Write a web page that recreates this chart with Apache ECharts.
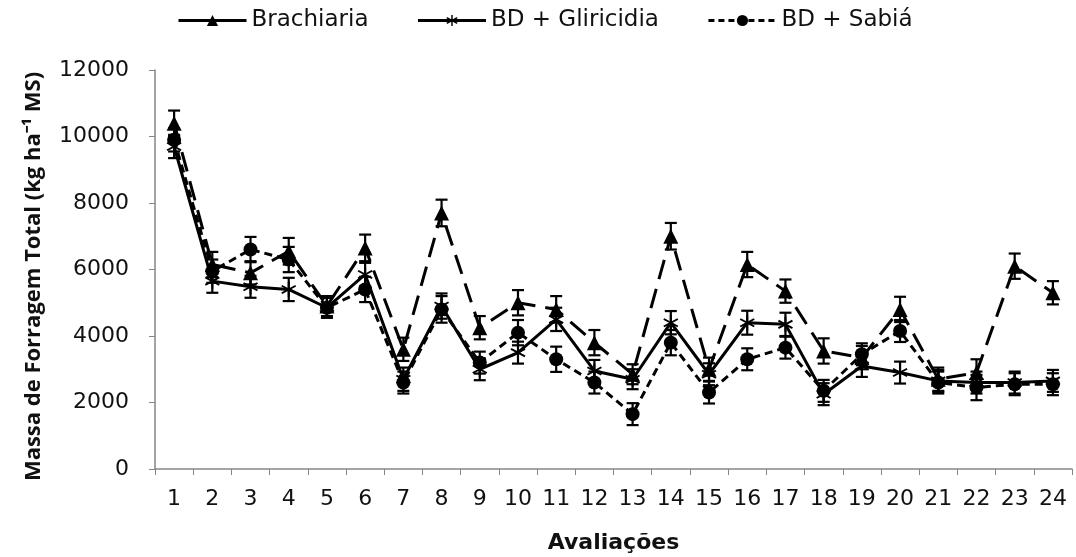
<!DOCTYPE html>
<html>
<head>
<meta charset="utf-8">
<script src="https://cdn.jsdelivr.net/npm/echarts@6/dist/echarts.min.js"></script>
<style>html,body{margin:0;padding:0;background:#fff;}#c{width:1076px;height:557px;}</style>
</head>
<body>
<div id="c"></div>
<script>
const categories = ['1','2','3','4','5','6','7','8','9','10','11','12','13','14','15','16','17','18','19','20','21','22','23','24'];
const brachiaria = [10400,6150,5900,6550,4900,6650,3600,7700,4250,5000,4800,3800,2850,7000,3000,6150,5350,3550,3350,4800,2700,2900,6100,5300];
const gliricidia = [9700,5650,5480,5400,4850,5850,2700,4900,3000,3500,4500,2950,2700,4400,2850,4400,4350,2250,3100,2900,2650,2600,2600,2650];
const sabia = [9900,5950,6600,6300,4850,5400,2600,4800,3200,4100,3300,2600,1650,3800,2300,3300,3650,2350,3450,4150,2600,2450,2550,2550];
const brachiariaErr = [380,380,350,400,300,400,350,400,350,380,400,380,300,400,350,380,350,380,350,380,350,400,380,350];
const gliricidiaErr = [350,350,330,350,300,350,350,380,330,330,350,330,300,350,330,360,350,330,330,330,330,330,330,330];
const sabiaErr = [350,350,380,380,300,380,330,400,330,380,380,330,330,380,330,330,330,330,330,330,330,380,330,330];
const yTicks = {min: 0, max: 12000, interval: 2000};
const names = ['Brachiaria', 'BD + Gliricidia', 'BD + Sabiá'];

const starPath = 'path://M-1.2,-10L1.2,-10L1.2,10L-1.2,10Z M8.06,6.04L9.26,3.96L-8.06,-6.04L-9.26,-3.96Z M-9.26,3.96L-8.06,6.04L9.26,-3.96L8.06,-6.04Z';

function errData(vals, errs) {
  return vals.map((v, i) => [i, v - errs[i], v + errs[i]]);
}
function errSeries(vals, errs) {
  return {
    type: 'custom',
    data: errData(vals, errs),
    encode: {x: 0, y: [1, 2]},
    z: 5,
    silent: true,
    renderItem: function (params, api) {
      const x = api.value(0);
      const lo = api.coord([x, api.value(1)]);
      const hi = api.coord([x, api.value(2)]);
      const w = 6;
      const st = {stroke: '#000', lineWidth: 2.2};
      return {
        type: 'group',
        children: [
          {type: 'line', shape: {x1: lo[0], y1: lo[1], x2: hi[0], y2: hi[1]}, style: st},
          {type: 'line', shape: {x1: lo[0] - w, y1: lo[1], x2: lo[0] + w, y2: lo[1]}, style: st},
          {type: 'line', shape: {x1: hi[0] - w, y1: hi[1], x2: hi[0] + w, y2: hi[1]}, style: st}
        ]
      };
    }
  };
}

const chart = echarts.init(document.getElementById('c'));
chart.setOption({
  animation: false,
  backgroundColor: '#fff',
  legend: {
    left: 172,
    top: 4,
    itemWidth: 68,
    itemHeight: 14,
    itemGap: 48,
    textStyle: {fontFamily: 'DejaVu Sans', fontSize: 23, color: '#111'},
    data: [
      {name: names[0], lineStyle: {type: 'solid', width: 3}},
      {name: names[1], lineStyle: {type: 'solid', width: 3}},
      {name: names[2], lineStyle: {type: [6, 4], width: 3}}
    ]
  },
  grid: {left: 155, right: 4, top: 70, bottom: 88, outerBoundsMode: 'none'},
  xAxis: {
    type: 'category',
    data: categories,
    name: 'Avaliações',
    nameLocation: 'middle',
    nameGap: 63,
    nameTextStyle: {fontFamily: 'DejaVu Sans', fontSize: 22, fontWeight: 'bold', color: '#111'},
    axisLine: {lineStyle: {color: '#868686', width: 1.5}},
    axisTick: {show: true, length: 6, lineStyle: {color: '#868686'}},
    axisLabel: {fontFamily: 'DejaVu Sans', fontSize: 22, color: '#111', margin: 19}
  },
  yAxis: {
    type: 'value',
    min: yTicks.min,
    max: yTicks.max,
    interval: yTicks.interval,
    name: 'Massa de Forragem Total (kg ha⁻¹ MS)',
    nameLocation: 'middle',
    nameGap: 110,
    nameTextStyle: {fontFamily: 'Open Sans', fontSize: 22, fontWeight: 'bold', color: '#111', padding: [0, 14, 0, 0]},
    splitLine: {show: false},
    axisLine: {show: true, lineStyle: {color: '#868686', width: 1.5}},
    axisTick: {show: true, length: 6, lineStyle: {color: '#868686'}},
    axisLabel: {fontFamily: 'DejaVu Sans', fontSize: 22, color: '#111', margin: 26, formatter: function (v) { return String(v); }}
  },
  series: [
    {
      name: names[0], type: 'line', data: brachiaria,
      symbol: 'triangle', symbolSize: 15,
      lineStyle: {color: '#000', width: 3, type: [20, 10]},
      itemStyle: {color: '#000'}, z: 3
    },
    {
      name: names[1], type: 'line', data: gliricidia,
      symbol: starPath, symbolSize: 15,
      lineStyle: {color: '#000', width: 3, type: 'solid'},
      itemStyle: {color: '#000'}, z: 3
    },
    {
      name: names[2], type: 'line', data: sabia,
      symbol: 'circle', symbolSize: 14,
      lineStyle: {color: '#000', width: 3, type: [8, 5]},
      itemStyle: {color: '#000'}, z: 3
    },
    errSeries(brachiaria, brachiariaErr),
    errSeries(gliricidia, gliricidiaErr),
    errSeries(sabia, sabiaErr)
  ]
});
</script>
</body>
</html>
